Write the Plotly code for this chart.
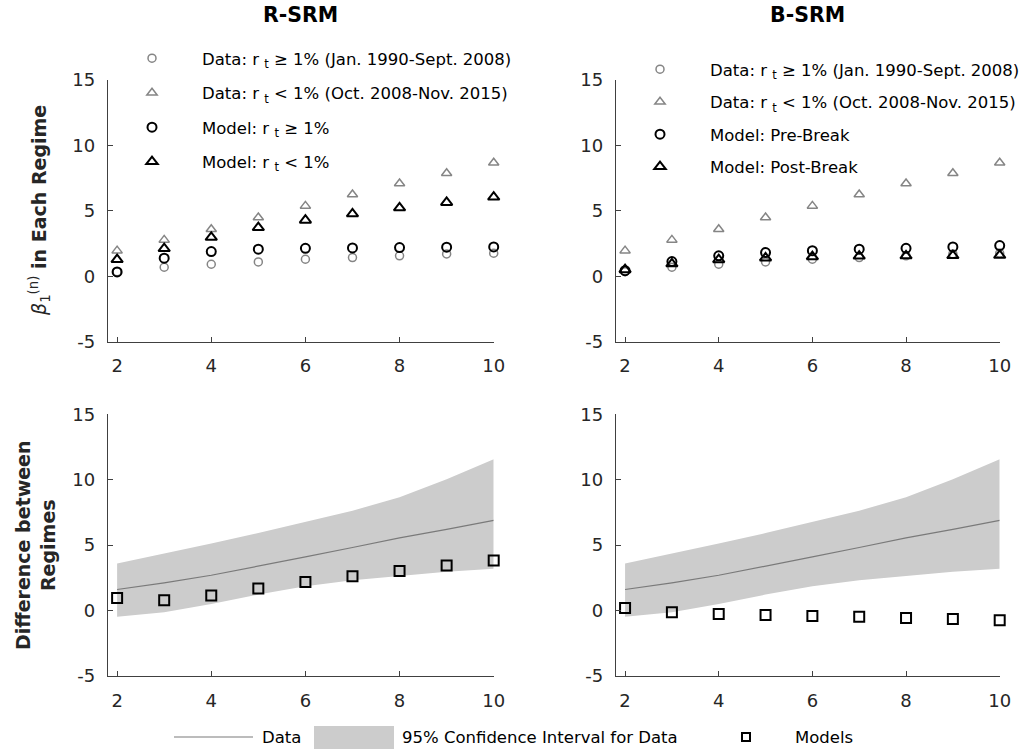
import plotly.graph_objects as go

# ---------------- data ----------------
maturity = [2, 3, 4, 5, 6, 7, 8, 9, 10]

# Data (same in both columns)
data_high = [0.35, 0.69, 0.92, 1.10, 1.30, 1.43, 1.56, 1.71, 1.76]   # r_t >= 1%
data_low = [1.96, 2.78, 3.60, 4.49, 5.38, 6.25, 7.09, 7.88, 8.67]    # r_t < 1%

# R-SRM model
rsrm_high = [0.33, 1.38, 1.89, 2.07, 2.14, 2.17, 2.19, 2.22, 2.24]
rsrm_low = [1.28, 2.12, 2.98, 3.72, 4.29, 4.77, 5.23, 5.64, 6.05]

# B-SRM model
bsrm_pre = [0.43, 1.12, 1.56, 1.81, 1.96, 2.07, 2.14, 2.24, 2.35]
bsrm_post = [0.50, 0.95, 1.27, 1.40, 1.50, 1.54, 1.56, 1.58, 1.60]

# Difference between regimes
diff_data = [1.61, 2.12, 2.70, 3.38, 4.10, 4.82, 5.56, 6.20, 6.89]
ci_upper = [3.60, 4.34, 5.13, 5.92, 6.76, 7.63, 8.67, 10.03, 11.56]
ci_lower = [-0.48, -0.13, 0.51, 1.22, 1.86, 2.32, 2.65, 2.96, 3.19]
rsrm_diff = [0.97, 0.79, 1.15, 1.68, 2.19, 2.62, 3.03, 3.44, 3.83]
bsrm_diff = [0.20, -0.13, -0.26, -0.33, -0.41, -0.48, -0.56, -0.64, -0.74]

y_ticks = [-5, 0, 5, 10, 15]
y_ticktext = ["-5", "0", "5", "10", "15"]
x_ticks = [2, 4, 6, 8, 10]

legend_left = [
    "Data: r <sub>t</sub> ≥ 1% (Jan. 1990-Sept. 2008)",
    "Data: r <sub>t</sub> < 1% (Oct. 2008-Nov. 2015)",
    "Model: r <sub>t</sub> ≥ 1%",
    "Model: r <sub>t</sub> < 1%",
]
legend_right = [
    "Data: r <sub>t</sub> ≥ 1% (Jan. 1990-Sept. 2008)",
    "Data: r <sub>t</sub> < 1% (Oct. 2008-Nov. 2015)",
    "Model: Pre-Break",
    "Model: Post-Break",
]

# ---------------- style ----------------
W, H = 1036, 751
FONT = "DejaVu Sans, Liberation Sans, Arial, sans-serif"
GRAY = "#858585"
BAND = "#cccccc"
AXC = "#404040"

fig = go.Figure()

def px_x(p):
    return p / W

def px_y(p):
    return 1 - p / H

# axis domains (pixel based)
dom_x_left = [px_x(107.7), px_x(493.7)]
dom_x_right = [px_x(615.7), px_x(999.7)]
dom_y_top = [px_y(341.7), px_y(80)]
dom_y_bot = [px_y(676), px_y(414.3)]

def add_scatter(x, y, symbol, color, size, lw, name, xa, ya, legend, group, show=True):
    fig.add_trace(go.Scatter(
        x=x, y=y, mode="markers", name=name,
        marker=dict(symbol=symbol, size=size, color=color,
                    line=dict(color=color, width=lw)),
        xaxis=xa, yaxis=ya, legend=legend, legendgroup=group,
        showlegend=show, cliponaxis=False, hoverinfo="x+y"))

# top-left: R-SRM
add_scatter(maturity, data_high, "circle-open", GRAY, 8, 1.5, legend_left[0], "x", "y", "legend", "a1")
add_scatter(maturity, data_low, "triangle-up-open", GRAY, 9, 1.5, legend_left[1], "x", "y", "legend", "a2")
add_scatter(maturity, rsrm_high, "circle-open", "black", 9, 2, legend_left[2], "x", "y", "legend", "a3")
add_scatter(maturity, rsrm_low, "triangle-up-open", "black", 10, 2, legend_left[3], "x", "y", "legend", "a4")

# top-right: B-SRM
add_scatter(maturity, data_high, "circle-open", GRAY, 8, 1.5, legend_right[0], "x2", "y2", "legend2", "b1")
add_scatter(maturity, data_low, "triangle-up-open", GRAY, 9, 1.5, legend_right[1], "x2", "y2", "legend2", "b2")
add_scatter(maturity, bsrm_pre, "circle-open", "black", 9, 2, legend_right[2], "x2", "y2", "legend2", "b3")
add_scatter(maturity, bsrm_post, "triangle-up-open", "black", 10, 2, legend_right[3], "x2", "y2", "legend2", "b4")

# bottom panels
for xa, ya, mdiff in [("x3", "y3", rsrm_diff), ("x4", "y4", bsrm_diff)]:
    fig.add_trace(go.Scatter(x=maturity, y=ci_lower, mode="lines", line=dict(width=0, color=BAND),
                             xaxis=xa, yaxis=ya, showlegend=False, hoverinfo="skip"))
    fig.add_trace(go.Scatter(x=maturity, y=ci_upper, mode="lines", line=dict(width=0, color=BAND),
                             fill="tonexty", fillcolor=BAND, xaxis=xa, yaxis=ya,
                             showlegend=False, name="95% Confidence Interval for Data", hoverinfo="skip"))
    fig.add_trace(go.Scatter(x=maturity, y=diff_data, mode="lines", line=dict(width=1.2, color="#7a7a7a"),
                             xaxis=xa, yaxis=ya, showlegend=False, name="Data"))
    fig.add_trace(go.Scatter(x=maturity, y=mdiff, mode="markers",
                             marker=dict(symbol="square-open", size=10, color="black", line=dict(color="black", width=2)),
                             xaxis=xa, yaxis=ya, showlegend=False, name="Models", cliponaxis=False))

axis_common = dict(showline=True, linecolor=AXC, linewidth=1, ticks="inside", ticklen=5,
                   tickcolor=AXC, showgrid=False, zeroline=False, automargin=False,
                   tickfont=dict(family=FONT, size=18, color="#262626"))

layout = dict(
    width=W, height=H, autosize=False,
    margin=dict(l=0, r=0, t=0, b=0, autoexpand=False),
    paper_bgcolor="white", plot_bgcolor="white",
    font=dict(family=FONT, size=16, color="black"),
    showlegend=True,
)
for i, (dx, dy) in enumerate([(dom_x_left, dom_y_top), (dom_x_right, dom_y_top),
                              (dom_x_left, dom_y_bot), (dom_x_right, dom_y_bot)], start=1):
    sx = "" if i == 1 else str(i)
    layout["xaxis" + sx] = dict(domain=dx, range=[1.8, 10], tickvals=x_ticks, anchor="y" + sx,
                                ticklabelstandoff=8, **axis_common)
    layout["yaxis" + sx] = dict(domain=dy, range=[-5, 15], tickvals=y_ticks, ticktext=y_ticktext,
                                anchor="x" + sx, ticklabelstandoff=8, **axis_common)

leg_common = dict(font=dict(family=FONT, size=16.5, color="black"), bgcolor="rgba(0,0,0,0)",
                  borderwidth=0, itemwidth=90, xanchor="left", yanchor="top",
                  itemclick=False, itemdoubleclick=False)
layout["legend"] = dict(x=px_x(102), y=px_y(41), tracegroupgap=10, **leg_common)
layout["legend2"] = dict(x=px_x(610), y=px_y(52), tracegroupgap=8, **leg_common)

fig.update_layout(**layout)

# titles
fig.add_annotation(text="<b>R-SRM</b>", x=px_x(300.7), y=px_y(15), xref="paper", yref="paper",
                   showarrow=False, font=dict(family=FONT, size=20.5, color="black"), xanchor="center", yanchor="middle")
fig.add_annotation(text="<b>B-SRM</b>", x=px_x(807.7), y=px_y(15), xref="paper", yref="paper",
                   showarrow=False, font=dict(family=FONT, size=20.5, color="black"), xanchor="center", yanchor="middle")

# y-axis titles
fig.add_annotation(text="<i>β</i><sub>1</sub><sup>(n)</sup><b> in Each Regime</b>", x=px_x(40), y=px_y(211),
                   xref="paper", yref="paper", showarrow=False, textangle=-90,
                   font=dict(family=FONT, size=19, color="#262626"), xanchor="center", yanchor="middle")
fig.add_annotation(text="<b>Difference between<br>Regimes</b>", x=px_x(35), y=px_y(545),
                   xref="paper", yref="paper", showarrow=False, textangle=-90,
                   font=dict(family=FONT, size=19, color="#262626"), xanchor="center", yanchor="middle")

# bottom shared legend (key)
ly = px_y(737)
fig.add_shape(type="line", xref="paper", yref="paper", x0=px_x(174), x1=px_x(253), y0=ly, y1=ly,
              line=dict(color="#7a7a7a", width=1.2))
fig.add_annotation(text="Data", x=px_x(260), y=ly, xref="paper", yref="paper", showarrow=False,
                   xanchor="left", yanchor="middle", font=dict(family=FONT, size=16.5, color="black"))
fig.add_shape(type="rect", xref="paper", yref="paper", x0=px_x(314), x1=px_x(394), y0=px_y(749), y1=px_y(726),
              line=dict(width=0), fillcolor=BAND)
fig.add_annotation(text="95% Confidence Interval for Data", x=px_x(400), y=ly, xref="paper", yref="paper",
                   showarrow=False, xanchor="left", yanchor="middle", font=dict(family=FONT, size=16.5, color="black"))
fig.add_shape(type="rect", xref="paper", yref="paper", x0=px_x(742), x1=px_x(750), y0=px_y(741), y1=px_y(733),
              line=dict(color="black", width=2), fillcolor="rgba(0,0,0,0)")
fig.add_annotation(text="Models", x=px_x(793), y=ly, xref="paper", yref="paper", showarrow=False,
                   xanchor="left", yanchor="middle", font=dict(family=FONT, size=16.5, color="black"))

# place the figure at the page origin (no default body margin)
post_js = ("document.body.style.margin='0';document.body.style.padding='0';"
           "document.documentElement.style.overflow='hidden';"
           "var gd=document.getElementById('{plot_id}');gd.style.position='absolute';"
           "gd.style.left='0px';gd.style.top='0px';")

fig.write_html("out.html", post_script=post_js, config={"displayModeBar": False})
